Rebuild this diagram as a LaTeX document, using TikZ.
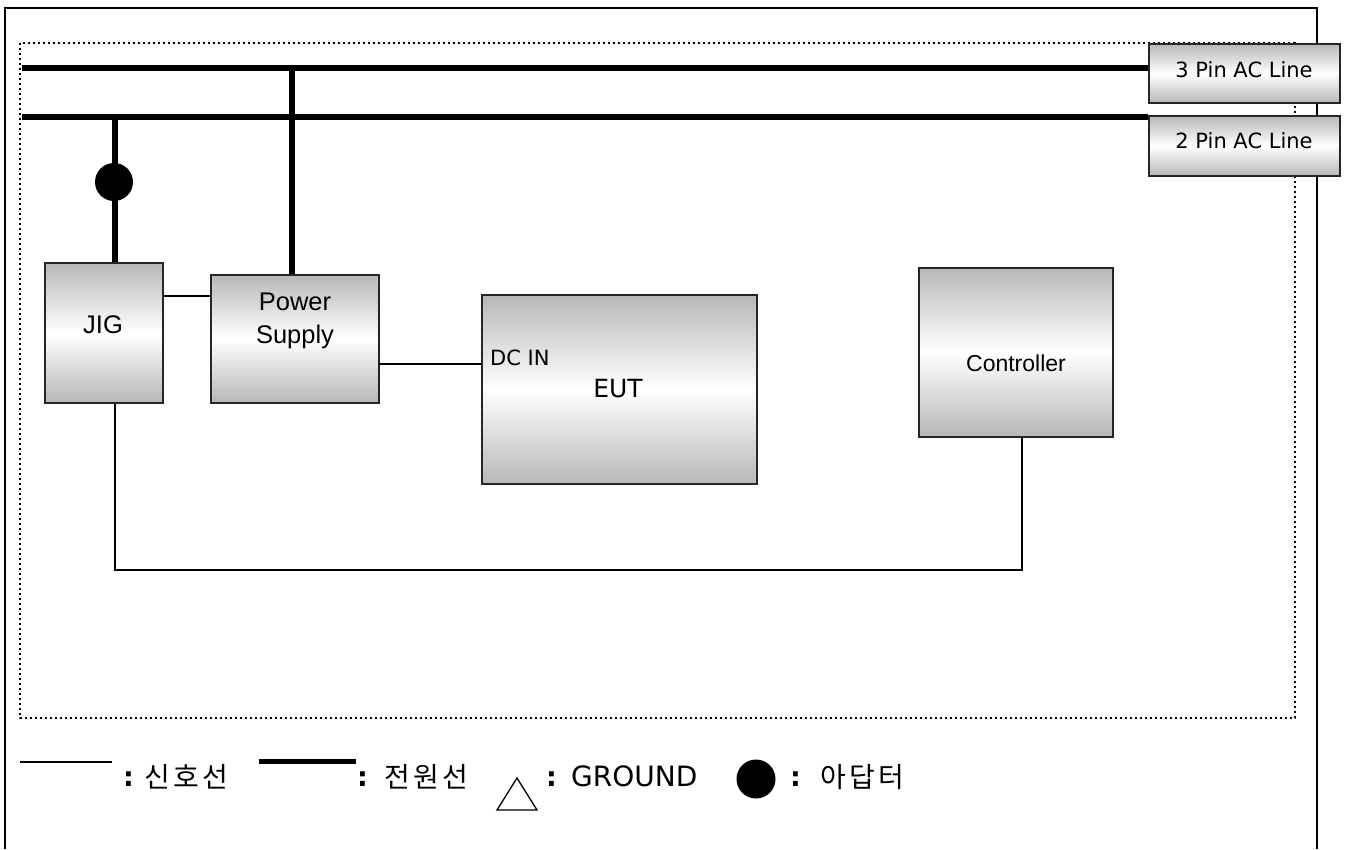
\documentclass[tikz,border=0pt]{standalone}
\usepackage{fontspec}
\setmainfont{Liberation Sans}
\newfontfamily\dejavu{DejaVu Sans}
\newfontfamily\krfont[LetterSpace=12]{Noto Sans CJK KR}
\begin{document}
\begin{tikzpicture}[x=1pt,y=-1pt,
  box/.style={draw=black!85, line width=1.6pt, top color=black!28, bottom color=black!28, middle color=white, inner sep=0pt, anchor=center},
  lbl/.style={font=\fontsize{25.5}{33}\selectfont, align=center, inner sep=0pt},
  aclbl/.style={font=\dejavu\fontsize{21}{24}\selectfont, inner sep=0pt},
  pwr/.style={line width=6pt},
  sig/.style={line width=1.5pt},
  leg/.style={font=\dejavu\fontsize{28}{32}\selectfont, inner sep=0pt, anchor=base west},
  legkr/.style={font=\krfont\fontsize{28}{32}\selectfont, inner sep=0pt, anchor=base west},
  colon/.style={font=\dejavu\bfseries\fontsize{27}{30}\selectfont, inner sep=0pt, anchor=base west}
]
\useasboundingbox (0,0) rectangle (1347,849);
% outer frame (open at the bottom)
\draw[line width=2pt] (5,849) -- (5,8) -- (1317,8) -- (1317,849);
% dotted area
\draw[line width=2pt, dash pattern=on 2pt off 3pt] (20,43) rectangle (1295,718);

% AC line boxes
\node[box, minimum width=191pt, minimum height=59pt] (pin3) at (1244.5,73.5) {};
\node[aclbl] (pin3t) at (1244,70) {3 Pin AC Line};
\node[box, minimum width=191pt, minimum height=60pt] (pin2) at (1244.5,146) {};
\node[aclbl] (pin2t) at (1244,141) {2 Pin AC Line};

% equipment boxes
\node[box, minimum width=118pt, minimum height=140pt] (jig) at (104,333) {};
\node[lbl] (jigt) at (103,325) {JIG};
\node[box, minimum width=168pt, minimum height=128pt] (ps) at (295,339) {};
\node[lbl] (pst) at (295,321) {Power\\Supply};
\node[box, minimum width=275pt, minimum height=189pt] (eut) at (619.5,389.5) {};
\node[font=\dejavu\fontsize{25}{30}\selectfont, inner sep=0pt] (eutt) at (618,389) {EUT};
\node[font=\dejavu\fontsize{21}{24}\selectfont, inner sep=0pt, anchor=west] (dcin) at (490,358) {DC IN};
\node[box, minimum width=194pt, minimum height=169pt] (ctrl) at (1016,352.5) {};
\node[lbl, font=\fontsize{23}{28}\selectfont] (ctrlt) at (1016,363) {Controller};

% power lines
\coordinate (l1) at (22,68);
\coordinate (l2) at (22,117);
\draw[pwr] (l1) -- (l1 -| pin3.west);
\draw[pwr] (l2) -- (l2 -| pin2.west);
\coordinate (pstap) at (292,68);
\draw[pwr] (pstap) -- (pstap |- ps.north);
\coordinate (jtap) at (115,117);
\draw[pwr] (jtap) -- (jtap |- jig.north);
\node[circle, fill=black, minimum size=38pt, inner sep=0pt] (adapter) at (114,182) {};

% signal lines
\coordinate (s1) at (163,296);
\draw[sig] (s1) -- (s1 -| ps.west);
\coordinate (s2) at (379,364);
\draw[sig] (s2) -- (s2 -| eut.west);
\coordinate (s3) at (115,403);
\coordinate (s4) at (1022,437);
\draw[sig] (s3 |- jig.south) -- (115,570) -- (1022,570) -- (s4 |- ctrl.south);

% legend
\coordinate (lg1a) at (20,762);
\coordinate (lg1b) at (112,762);
\draw[sig] (lg1a) -- (lg1b);
\node[colon] (c1) at (123,786) {:};
\node[legkr] (k1) at (144,787) {신호선};
\coordinate (lg2a) at (259,761);
\coordinate (lg2b) at (356,761);
\draw[line width=5pt] (lg2a) -- (lg2b);
\node[colon] (c2) at (357,786) {:};
\node[legkr] (k2) at (384,787) {전원선};
\draw[line width=1.3pt, line join=miter] (517,778) -- (537,810) -- (497,810) -- cycle;
\node[colon] (c3) at (546,786) {:};
\node[leg] (gnd) at (571,786) {GROUND};
\node[circle, fill=black, minimum size=39pt, inner sep=0pt] (legcirc) at (756,779) {};
\node[colon] (c4) at (790,786) {:};
\node[legkr] (k3) at (820,787) {아답터};
\end{tikzpicture}
\end{document}
